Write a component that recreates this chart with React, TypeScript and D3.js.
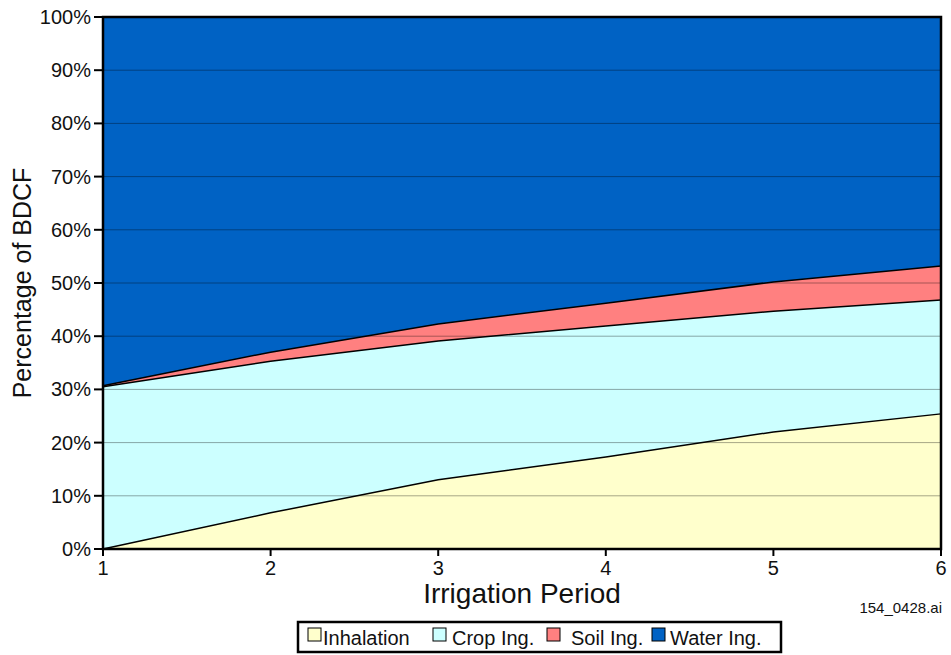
import React from "react";
import * as d3 from "d3";

const periods = [1, 2, 3, 4, 5, 6];
const inhalation = [0, 6.8, 13.0, 17.3, 22.0, 25.4];
const cropIng = [30.5, 28.5, 26.1, 24.6, 22.7, 21.4];
const soilIng = [0.2, 1.7, 3.2, 4.3, 5.5, 6.4];
const waterIng = [69.3, 63.0, 57.7, 53.8, 49.8, 46.8];
const seriesNames = ["Inhalation", "Crop Ing.", "Soil Ing.", "Water Ing."];
const seriesColors = ["#FFFFCC", "#CCFFFF", "#FF8080", "#0062C4"];
const yTicks = [0, 10, 20, 30, 40, 50, 60, 70, 80, 90, 100];

const W = 951, H = 655;
const left = 103, right = 941, top = 17, bottom = 549;
const FONT = "'Liberation Sans', Arial, sans-serif";

export default function App() {
  const x = d3.scaleLinear().domain([1, 6]).range([left, right]);
  const y = d3.scaleLinear().domain([0, 100]).range([bottom, top]);
  const table = periods.map((p, i) => ({
    p,
    "Inhalation": inhalation[i],
    "Crop Ing.": cropIng[i],
    "Soil Ing.": soilIng[i],
    "Water Ing.": waterIng[i],
  }));
  const stack = d3.stack<any>().keys(seriesNames)(table);
  const area = d3.area<any>().x((d) => x(d.data.p)).y0((d) => y(d[0])).y1((d) => y(Math.min(100, d[1])));
  const line = d3.line<any>().x((d) => x(d.data.p)).y((d) => y(Math.min(100, d[1])));

  const legendItems = [
    { sq: 308, tx: 323 },
    { sq: 433, tx: 452 },
    { sq: 547, tx: 571 },
    { sq: 652, tx: 670 },
  ];

  return (
    <svg width={W} height={H} style={{ position: "absolute", left: 0, top: 0, background: "#fff" }} fontFamily={FONT}>
      <rect x={0} y={0} width={W} height={H} fill="#fff" />
      {stack.map((s, i) => (
        <path key={i} d={area(s) || ""} fill={seriesColors[i]} stroke="none" />
      ))}
      {yTicks.filter((t) => t > 0 && t < 100).map((t) => (
        <line key={t} x1={left} x2={right} y1={y(t)} y2={y(t)} stroke="#000" strokeOpacity={0.35} strokeWidth={1} />
      ))}
      {stack.slice(0, 3).map((s, i) => (
        <path key={i} d={line(s) || ""} fill="none" stroke="#000" strokeWidth={1.5} />
      ))}
      <rect x={left} y={top} width={right - left} height={bottom - top} fill="none" stroke="#000" strokeWidth={2.5} />
      {yTicks.map((t) => (
        <g key={t}>
          <line x1={left - 9} x2={left} y1={y(t)} y2={y(t)} stroke="#000" strokeWidth={2} />
          <text x={left - 12} y={y(t) + 7} textAnchor="end" fontSize={20} fill="#111">{t}%</text>
        </g>
      ))}
      {periods.map((p) => (
        <g key={p}>
          <line x1={x(p)} x2={x(p)} y1={bottom} y2={bottom + 7} stroke="#000" strokeWidth={2} />
          <text x={x(p)} y={bottom + 26} textAnchor="middle" fontSize={20} fill="#111">{p}</text>
        </g>
      ))}
      <text x={(left + right) / 2} y={603} textAnchor="middle" fontSize={28} fill="#111">Irrigation Period</text>
      <text transform={`translate(31, ${(top + bottom) / 2}) rotate(-90)`} textAnchor="middle" fontSize={25} fill="#111">Percentage of BDCF</text>
      <text x={942} y={613} textAnchor="end" fontSize={15} fill="#111">154_0428.ai</text>
      <rect x={298} y={622} width={483} height={30} fill="#fff" stroke="#000" strokeWidth={2.5} />
      {seriesNames.map((n, i) => (
        <g key={n}>
          <rect x={legendItems[i].sq} y={628} width={13} height={13} fill={seriesColors[i]} stroke="#000" strokeWidth={1} />
          <text x={legendItems[i].tx} y={645} fontSize={20} fill="#111">{n}</text>
        </g>
      ))}
    </svg>
  );
}
